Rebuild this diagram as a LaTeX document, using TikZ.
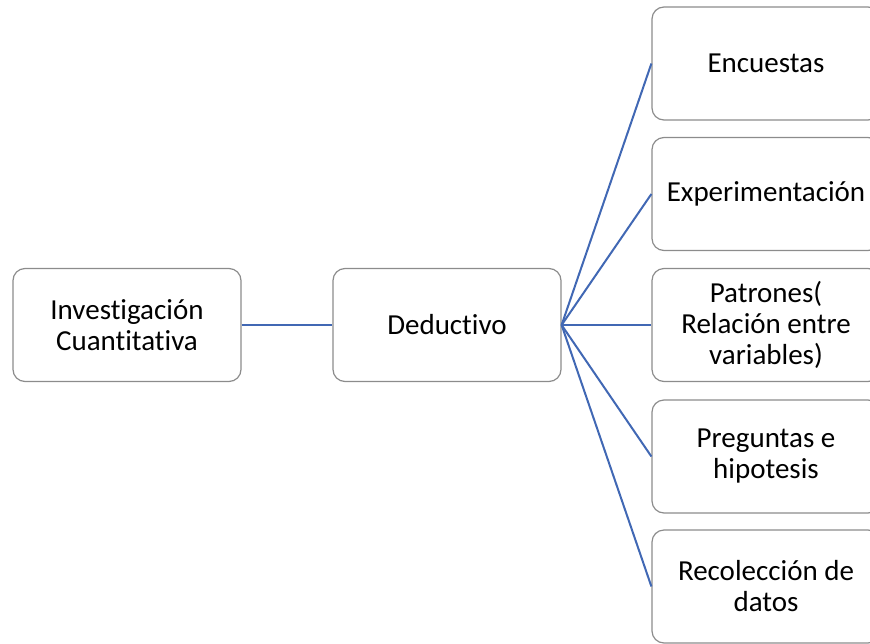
\documentclass[tikz,border=0pt]{standalone}
\usepackage{fontspec}
\setmainfont[Ligatures=NoCommon]{Carlito}
\begin{document}
\begin{tikzpicture}[x=1pt,y=-1pt,
  box/.style={draw=boxgray,line width=1.2pt,rounded corners=12pt,fill=white,
    minimum width=228pt,minimum height=113pt,align=center,inner sep=0pt,
    font=\fontsize{29pt}{31pt}\selectfont},
  link/.style={draw=linkblue,line width=2pt}]
\definecolor{boxgray}{HTML}{8C8C8C}
\definecolor{linkblue}{HTML}{4168B4}
\useasboundingbox (0,0) rectangle (870,643);
\clip (0,0) rectangle (870,643);
\node[box] (inv) at (127,325) {Investigación\\Cuantitativa};
\node[box] (ded) at (447,325) {Deductivo};
\node[box] (r1) at (766,63.5) {Encuestas};
\node[box] (r2) at (766,194) {Experimentación};
\node[box] (r3) at (766,325) {Patrones(\\Relación entre\\variables)};
\node[box] (r4) at (766,456.5) {Preguntas e\\hipotesis};
\node[box] (r5) at (766,586.5) {Recolección de\\datos};
\draw[link] (inv.east) -- (ded.west);
\foreach \n in {r1,r2,r3,r4,r5}{
  \draw[link] (ded.east) -- (\n.west);
}
\end{tikzpicture}
\end{document}
